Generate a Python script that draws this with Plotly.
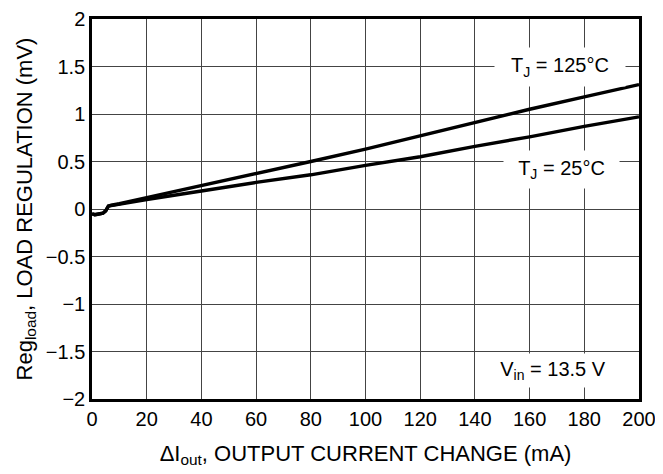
import plotly.graph_objects as go

# Data
x_mA = [0, 1, 2, 3, 4, 5, 5.5, 6, 7, 10, 20, 40, 60, 80, 100, 120, 140, 160, 180, 200]
reg_125 = [-0.05, -0.06, -0.055, -0.05, -0.045, -0.02, 0.01, 0.03, 0.04, 0.055, 0.12, 0.245, 0.37, 0.50, 0.63, 0.77, 0.91, 1.05, 1.18, 1.31]
reg_25 = [-0.05, -0.06, -0.055, -0.05, -0.045, -0.02, 0.01, 0.03, 0.035, 0.05, 0.10, 0.19, 0.28, 0.36, 0.46, 0.55, 0.66, 0.76, 0.87, 0.97]

x_ticks = [0, 20, 40, 60, 80, 100, 120, 140, 160, 180, 200]
y_ticks = [-2, -1.5, -1, -0.5, 0, 0.5, 1, 1.5, 2]
y_tick_text = ["\u22122", "\u22121.5", "\u22121", "\u22120.5", "0", "0.5", "1", "1.5", "2"]

FONT = "Liberation Sans, Arial, Helvetica, sans-serif"
FS = 20
FT = 22

fig = go.Figure()
fig.add_trace(go.Scatter(x=x_mA, y=reg_125, mode="lines",
                         line=dict(color="black", width=3.4), showlegend=False))
fig.add_trace(go.Scatter(x=x_mA, y=reg_25, mode="lines",
                         line=dict(color="black", width=3.4), showlegend=False))

ann_style = dict(showarrow=False, bgcolor="white", font=dict(family=FONT, size=FS, color="black"),
                 xref="x", yref="y", borderpad=1)
fig.add_annotation(x=171, y=1.5, text="T<sub>J</sub> = 125°C", width=128, height=36, **ann_style)
fig.add_annotation(x=171.5, y=0.42, text="T<sub>J</sub> = 25°C", width=113, height=35, **ann_style)
fig.add_annotation(x=168.5, y=-1.70, text="V<sub>in</sub> = 13.5 V", width=130, height=31, **ann_style)

fig.update_layout(
    width=655, height=466,
    margin=dict(l=84, r=24, t=11, b=75, autoexpand=False),
    paper_bgcolor="white", plot_bgcolor="white",
    font=dict(family=FONT, size=FS, color="black"),
)
fig.update_xaxes(
    range=[0, 200], tickvals=x_ticks, ticks="", showgrid=True,
    gridcolor="#444444", gridwidth=1, zeroline=False,
    showline=True, linecolor="black", linewidth=2.5, mirror=True,
    title=dict(text="\u0394I<sub>out</sub>, OUTPUT CURRENT CHANGE (mA)", font=dict(size=FT), standoff=17),
    tickfont=dict(size=FS), ticklabeloverflow="allow", automargin=False,
)
fig.update_yaxes(
    range=[-2, 2], tickvals=y_ticks, ticktext=y_tick_text, ticks="", showgrid=True,
    gridcolor="#444444", gridwidth=1, zeroline=False,
    showline=True, linecolor="black", linewidth=2.5, mirror=True,
    title=dict(text="Reg<sub>load</sub>, LOAD REGULATION (mV)", font=dict(size=FT), standoff=8),
    tickfont=dict(size=FS), ticklabeloverflow="allow", automargin=False,
)

fig.write_html("out.html")
